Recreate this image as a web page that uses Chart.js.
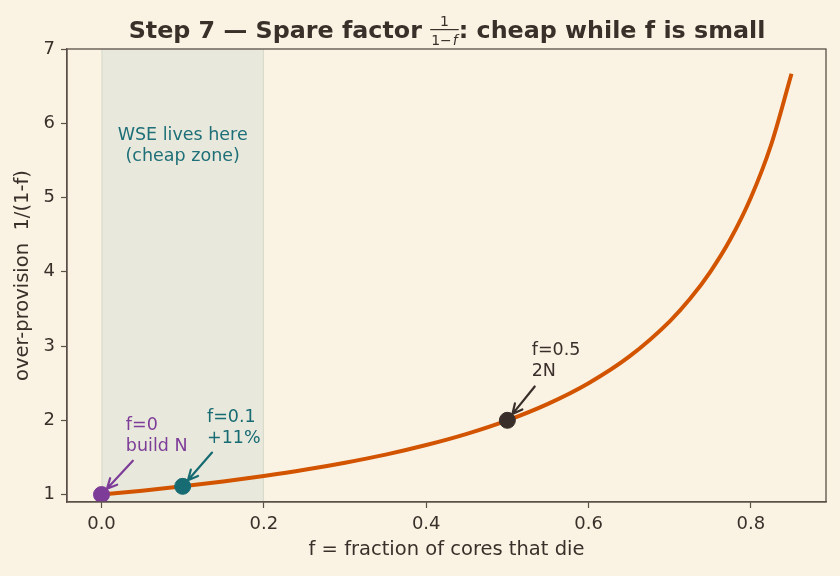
<!DOCTYPE html>
<html>
<head>
<meta charset="utf-8">
<script src="https://cdn.jsdelivr.net/npm/chart.js@4.4.1/dist/chart.umd.min.js"></script>
<style>
  html, body { margin: 0; padding: 0; background: #faf3e3; }
  #wrap { width: 840px; height: 576px; }
</style>
</head>
<body>
<div id="wrap"><canvas id="c" width="840" height="576"></canvas></div>
<script>
// curve: fraction of cores that die -> over-provision
const fVals = [0, 0.05, 0.1, 0.15, 0.2, 0.25, 0.3, 0.35, 0.4, 0.45, 0.5, 0.55, 0.6, 0.65, 0.7, 0.725, 0.75, 0.775, 0.8, 0.825, 0.85];
const overProv = [1.00, 1.053, 1.111, 1.176, 1.25, 1.333, 1.429, 1.538, 1.667, 1.818, 2.00, 2.222, 2.50, 2.857, 3.333, 3.636, 4.00, 4.444, 5.00, 5.714, 6.667];

// highlighted points + their notes (note position = baseline of last line)
const markF = [0, 0.1, 0.5];
const markY = [1.0, 1.111, 2.0];
const markNotes = [["f=0", "build N"], ["f=0.1", "+11%"], ["f=0.5", "2N"]];
const noteF = [0.03, 0.13, 0.53];
const noteY = [1.59, 1.70, 2.59];

// shaded zone
const zoneFrom = 0, zoneTo = 0.2;
const zoneText = ["WSE lives here", "(cheap zone)"];

const xTicks = [0, 0.2, 0.4, 0.6, 0.8];
const yTicks = [1, 2, 3, 4, 5, 6, 7];

const INK = "#3a302a";
const AXIS = "#5b5048";
const markColors = ["#7d3c98", "#176b73", "#3a2e2a"];
const FONT = "'DejaVu Sans', sans-serif";
const FS = 17.5;   // notes
const TICK = 18;
const LAB = 19.5;

const bgPlugin = {
  id: "bg",
  beforeDraw(chart) {
    const { ctx, chartArea: a, scales: { x } } = chart;
    ctx.save();
    ctx.fillStyle = "#faf3e3";
    ctx.fillRect(0, 0, chart.width, chart.height);
    const x0 = x.getPixelForValue(zoneFrom), x1 = x.getPixelForValue(zoneTo);
    ctx.fillStyle = "#e8e9dc";
    ctx.fillRect(x0, a.top, x1 - x0, a.bottom - a.top);
    ctx.strokeStyle = "#d6d9c8";
    ctx.lineWidth = 1;
    ctx.beginPath();
    ctx.moveTo(x0 + 0.5, a.top); ctx.lineTo(x0 + 0.5, a.bottom);
    ctx.moveTo(x1 - 0.5, a.top); ctx.lineTo(x1 - 0.5, a.bottom);
    ctx.stroke();
    ctx.restore();
  }
};

// arrow from tail toward a point, stopping short of its centre
function arrow(ctx, x1, y1, px, py, color) {
  const ang = Math.atan2(py - y1, px - x1);
  const x2 = px - 8 * Math.cos(ang), y2 = py - 8 * Math.sin(ang);
  ctx.strokeStyle = color;
  ctx.lineWidth = 2.2;
  ctx.lineCap = "round";
  ctx.beginPath();
  ctx.moveTo(x1, y1);
  ctx.lineTo(x2, y2);
  ctx.moveTo(x2, y2);
  ctx.lineTo(x2 - 11 * Math.cos(ang - 0.45), y2 - 11 * Math.sin(ang - 0.45));
  ctx.moveTo(x2, y2);
  ctx.lineTo(x2 - 11 * Math.cos(ang + 0.45), y2 - 11 * Math.sin(ang + 0.45));
  ctx.stroke();
}

const tailDx = [7, 5, 3];

const notesPlugin = {
  id: "notes",
  afterDraw(chart) {
    const { ctx, chartArea: a, scales: { x, y } } = chart;
    ctx.save();
    // frame top/right
    ctx.strokeStyle = AXIS;
    ctx.lineWidth = 1.3;
    ctx.strokeRect(a.left, a.top, a.right - a.left, a.bottom - a.top);

    // zone label
    ctx.fillStyle = "#1f6f78";
    ctx.font = FS + "px " + FONT;
    ctx.textAlign = "center";
    ctx.textBaseline = "middle";
    const zx = x.getPixelForValue((zoneFrom + zoneTo) / 2);
    const zy = y.getPixelForValue(5.70);
    ctx.fillText(zoneText[0], zx, zy - 10.5);
    ctx.fillText(zoneText[1], zx, zy + 10.5);

    // notes + arrows
    ctx.textAlign = "left";
    ctx.textBaseline = "alphabetic";
    markNotes.forEach((lines, i) => {
      const tx = x.getPixelForValue(noteF[i]);
      const ty = y.getPixelForValue(noteY[i]);
      ctx.fillStyle = markColors[i];
      ctx.font = FS + "px " + FONT;
      ctx.fillText(lines[0], tx, ty - 21);
      ctx.fillText(lines[1], tx, ty);
      const px = x.getPixelForValue(markF[i]);
      const py = y.getPixelForValue(markY[i]);
      arrow(ctx, tx + tailDx[i], ty + 10, px, py, markColors[i]);
    });

    // title with fraction
    ctx.fillStyle = INK;
    const bold = "bold 23.8px " + FONT;
    const small = "14px " + FONT;
    const partA = "Step 7 \u2014 Spare factor ";
    const partB = ": cheap while f is small";
    ctx.font = bold;
    const wA = ctx.measureText(partA).width;
    const wB = ctx.measureText(partB).width;
    ctx.font = small;
    const wDen = ctx.measureText("1\u2212f").width + 3;
    const total = wA + wDen + wB;
    let cx = 447 - total / 2;
    ctx.font = bold;
    ctx.fillText(partA, cx, 38);
    cx += wA;
    ctx.font = small;
    ctx.textAlign = "center";
    ctx.fillText("1", cx + wDen / 2, 26);
    ctx.fillRect(cx, 29, wDen, 1.2);
    ctx.textAlign = "left";
    ctx.fillText("1\u2212", cx + 1, 45);
    const w1 = ctx.measureText("1\u2212").width;
    ctx.font = "italic 14px " + FONT;
    ctx.fillText("f", cx + w1 + 2, 45);
    cx += wDen;
    ctx.font = bold;
    ctx.fillText(partB, cx, 38);
    ctx.restore();
  }
};

const curve = fVals.map((f, i) => ({ x: f, y: overProv[i] }));

new Chart(document.getElementById("c"), {
  type: "line",
  data: {
    datasets: [
      {
        data: curve,
        borderColor: "#d35400",
        borderWidth: 4,
        pointRadius: 0,
        cubicInterpolationMode: "monotone",
        fill: false,
        order: 2
      },
      {
        type: "scatter",
        data: markF.map((f, i) => ({ x: f, y: markY[i] })),
        backgroundColor: markColors,
        borderColor: markColors,
        pointRadius: 8,
        order: 1
      }
    ]
  },
  options: {
    responsive: false,
    animation: false,
    events: [],
    layout: { padding: { top: 49, right: 14, left: 0, bottom: 0 } },
    plugins: { legend: { display: false }, tooltip: { enabled: false } },
    scales: {
      x: {
        type: "linear",
        min: -0.0425,
        max: 0.8925,
        afterFit(s) { s.height = 74; },
        afterBuildTicks(s) { s.ticks = xTicks.map(v => ({ value: v })); },
        grid: { drawOnChartArea: false, tickLength: 6, tickColor: AXIS, tickWidth: 1.2 },
        border: { color: AXIS, width: 1.3 },
        ticks: {
          color: INK, font: { family: FONT, size: TICK }, padding: 6,
          maxRotation: 0, callback: v => v.toFixed(1)
        },
        title: {
          display: true, text: "f = fraction of cores that die",
          color: INK, font: { family: FONT, size: LAB }, padding: { top: 4, bottom: 14 }
        }
      },
      y: {
        type: "linear",
        min: 0.9,
        max: 7,
        afterFit(s) { s.width = 67; },
        afterBuildTicks(s) { s.ticks = yTicks.map(v => ({ value: v })); },
        grid: { drawOnChartArea: false, tickLength: 6, tickColor: AXIS, tickWidth: 1.2 },
        border: { color: AXIS, width: 1.3 },
        ticks: {
          color: INK, font: { family: FONT, size: TICK }, padding: 6,
          callback: v => String(v)
        },
        title: {
          display: true, text: "over-provision  1/(1-f)",
          color: INK, font: { family: FONT, size: LAB }, padding: { top: 11, bottom: 0 }
        }
      }
    }
  },
  plugins: [bgPlugin, notesPlugin]
});
</script>
</body>
</html>
